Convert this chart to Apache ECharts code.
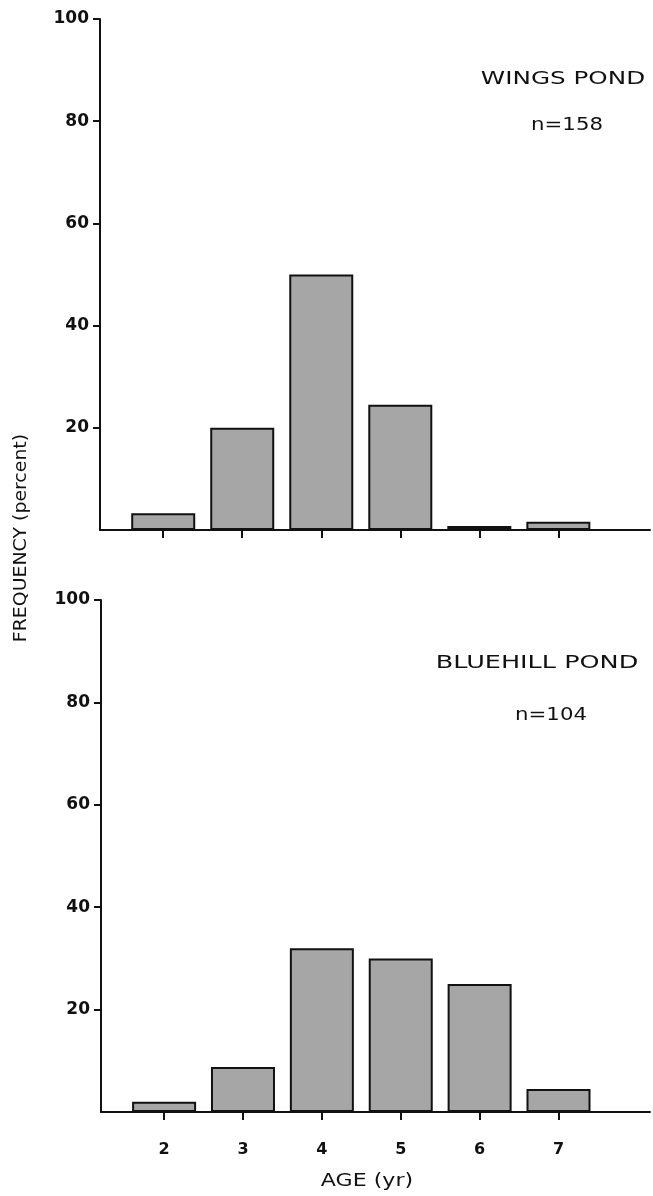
<!DOCTYPE html>
<html>
<head>
<meta charset="utf-8">
<script src="https://cdn.jsdelivr.net/npm/echarts@6/dist/echarts.min.js"></script>
<style>
  html, body { margin: 0; padding: 0; background: #fff; }
  #chart { width: 653px; height: 1196px; }
</style>
</head>
<body>
<div id="chart"></div>
<script>
// ages (yr) on the x axis
const ages = [2, 3, 4, 5, 6, 7];
// frequency (percent)
const wingsPct = [3.3, 20, 50, 24.5, 0.8, 1.6];
const bluehillPct = [2, 8.8, 32, 30, 25, 4.5];
const yTicks = [20, 40, 60, 80, 100];

const chart = echarts.init(document.getElementById('chart'));
const font = 'DejaVu Sans';

function xAxisFor(gridIndex, showLabels) {
  return {
    type: 'value', gridIndex: gridIndex, min: 1.2, max: 8.16,
    axisLine: { lineStyle: { color: '#111', width: 2 } },
    axisTick: { show: true, customValues: ages, inside: false, length: 8, lineStyle: { color: '#111', width: 2 } },
    axisLabel: showLabels
      ? { customValues: ages, margin: 30, color: '#111', fontFamily: font, fontSize: 16, fontWeight: 'bold' }
      : { show: false },
    splitLine: { show: false }
  };
}

function yAxisFor(gridIndex) {
  return {
    type: 'value', gridIndex: gridIndex, min: 0, max: 100, interval: 20,
    axisLine: { show: true, lineStyle: { color: '#111', width: 2 } },
    axisTick: { show: true, customValues: yTicks, length: 7, lineStyle: { color: '#111', width: 2 } },
    axisLabel: {
      customValues: yTicks, margin: 11, color: '#111', fontFamily: font, fontSize: 17, fontWeight: 'bold'
    },
    splitLine: { show: false }
  };
}

function barSeries(idx, values) {
  return {
    type: 'bar', xAxisIndex: idx, yAxisIndex: idx,
    data: ages.map((a, i) => [a, values[i]]),
    barWidth: 64,
    itemStyle: { color: '#a6a6a6', borderColor: '#111', borderWidth: 2 },
    silent: true
  };
}

function label(text, x, y, size, sx, rot) {
  return {
    type: 'text', x: x, y: y, scaleX: sx, rotation: rot || 0,
    style: { text: text, fill: '#111', font: size + 'px "' + font + '"', textAlign: 'center', textVerticalAlign: 'middle' }
  };
}

chart.setOption({
  animation: false,
  grid: [
    { left: 100, right: 3, top: 19, height: 511 },
    { left: 101, right: 3, top: 600, height: 512 }
  ],
  xAxis: [xAxisFor(0, false), xAxisFor(1, true)],
  yAxis: [yAxisFor(0), yAxisFor(1)],
  series: [barSeries(0, wingsPct), barSeries(1, bluehillPct)],
  graphic: [
    label('WINGS POND', 563, 80, 17, 1.45),
    label('n=158', 567, 126, 17, 1.25),
    label('BLUEHILL POND', 537, 664, 17, 1.5),
    label('n=104', 551, 716, 17, 1.25),
    label('AGE (yr)', 367, 1182, 17, 1.3),
    label('FREQUENCY (percent)', 21, 538, 18, 1.05, Math.PI / 2)
  ]
});
</script>
</body>
</html>
